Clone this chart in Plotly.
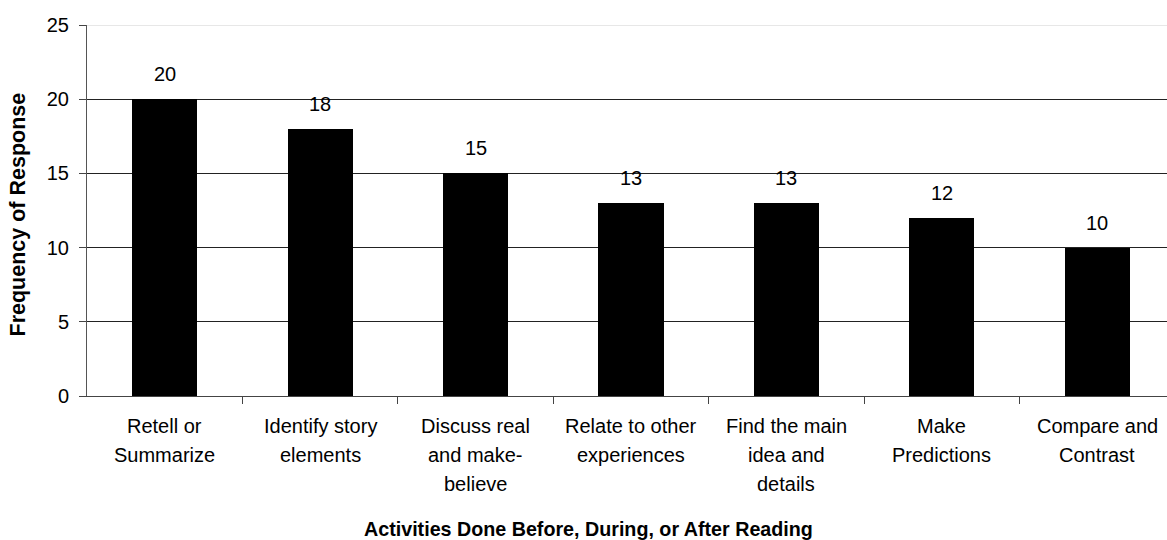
import plotly.graph_objects as go

# Survey responses: reading activities and how often each was reported
activities = [
    "Retell or<br>Summarize",
    "Identify story<br>elements",
    "Discuss real<br>and make-<br>believe",
    "Relate to other<br>experiences",
    "Find the main<br>idea and<br>details",
    "Make<br>Predictions",
    "Compare and<br>Contrast",
]
frequency = [20, 18, 15, 13, 13, 12, 10]
y_ticks = [0, 5, 10, 15, 20, 25]

FONT = "Liberation Sans, Arial, sans-serif"
W, H = 1167, 540
ML, MT, MB = 87, 25, 144
n = len(activities)

fig = go.Figure()
fig.add_trace(go.Bar(
    x=list(range(n)),
    y=frequency,
    width=0.42,
    marker=dict(color="black", line=dict(color="black", width=0)),
    hoverinfo="skip",
))

annotations = []
# Value labels above each bar
for i, v in enumerate(frequency):
    annotations.append(dict(
        x=i, xref="x", y=v, yref="y",
        text=str(v), showarrow=False,
        xanchor="center", yanchor="middle", yshift=25,
        font=dict(family=FONT, size=20, color="black"),
    ))

# Multi-line category labels, one annotation per line for wider line spacing
for i, lab in enumerate(activities):
    for j, line in enumerate(lab.split("<br>")):
        annotations.append(dict(
            x=i, xref="x", y=0, yref="y",
            text=line, showarrow=False,
            yanchor="middle", xanchor="center",
            yshift=-(30 + 29 * j),
            font=dict(family=FONT, size=20, color="black"),
        ))

# Axis titles
annotations.append(dict(
    x=(588 - ML) / (W - ML), xref="paper",
    y=0, yref="y", yshift=-133,
    text="<b>Activities Done Before, During, or After Reading</b>",
    showarrow=False, xanchor="center", yanchor="middle",
    font=dict(family=FONT, size=19.7, color="black"),
))
annotations.append(dict(
    x=0, xref="paper", xshift=-70,
    y=0.5, yref="paper", yshift=-4,
    text="<b>Frequency of Response</b>", textangle=-90,
    showarrow=False, xanchor="center", yanchor="middle",
    font=dict(family=FONT, size=21.5, color="black"),
))

# Top gridline is drawn lighter than the others
shapes = [dict(
    type="line", xref="paper", yref="y",
    x0=0, x1=1, y0=y_ticks[-1], y1=y_ticks[-1],
    line=dict(color="#cfcfcf", width=1), layer="above",
)]

fig.update_layout(
    width=W, height=H,
    margin=dict(l=ML, r=0, t=MT, b=MB),
    paper_bgcolor="white", plot_bgcolor="white",
    showlegend=False,
    annotations=annotations,
    shapes=shapes,
    bargap=0,
    xaxis=dict(
        range=[-0.5, n - 0.5 - 8 / 155.5],
        showticklabels=False,
        tickmode="array",
        tickvals=[k - 0.5 for k in range(1, n)],
        ticks="outside", ticklen=7, tickcolor="#444", tickwidth=1,
        showgrid=False, zeroline=False,
        showline=True, linecolor="#444", linewidth=1,
        fixedrange=True,
    ),
    yaxis=dict(
        range=[0, 25],
        tickvals=y_ticks,
        ticks="outside", ticklen=7, tickcolor="#444", tickwidth=1,
        ticklabelstandoff=6,
        tickfont=dict(family=FONT, size=20, color="black"),
        showgrid=True, gridcolor="#222", gridwidth=1,
        zeroline=False,
        showline=True, linecolor="#555", linewidth=1,
        fixedrange=True,
    ),
)

fig.write_html("out.html", config={"displayModeBar": False})
